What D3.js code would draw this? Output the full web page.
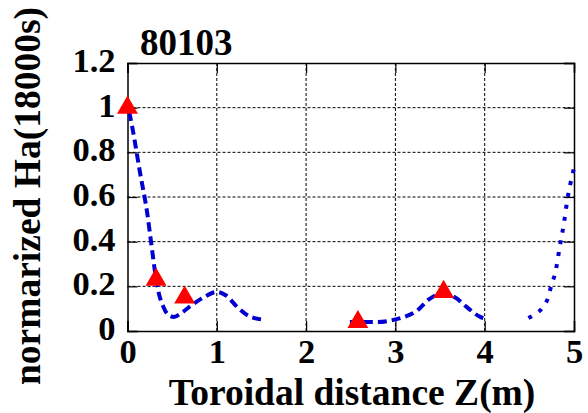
<!DOCTYPE html>
<html><head><meta charset="utf-8">
<script src="https://cdn.jsdelivr.net/npm/d3@7/dist/d3.min.js"></script>
<style>html,body{margin:0;padding:0;background:#fff;}svg{display:block;}</style>
</head><body>
<svg id="c" width="588" height="413"></svg>
<script>
const title = "80103";
const xLabel = "Toroidal distance Z(m)";
const yLabel = "normarized Ha(18000s)";
const xTicks = [0, 1, 2, 3, 4, 5];
const yTicks = [0, 0.2, 0.4, 0.6, 0.8, 1, 1.2];
const yTickLabels = ["0", "0.2", "0.4", "0.6", "0.8", "1", "1.2"];

// measured points (triangles)
const markerZ = [0, 0.32, 0.64, 2.58, 3.54];
const markerH = [1.0, 0.23, 0.15, 0.04, 0.175];

// dashed curve segments
const seg1Z = [0.02, 0.05, 0.14, 0.22, 0.27, 0.31, 0.35, 0.4, 0.45, 0.52, 0.6, 0.7, 0.85, 1.0, 1.1, 1.23, 1.37, 1.54];
const seg1H = [0.98, 0.92, 0.71, 0.53, 0.38, 0.26, 0.17, 0.11, 0.075, 0.063, 0.08, 0.11, 0.15, 0.175, 0.16, 0.107, 0.065, 0.05];
const seg2Z = [2.49, 2.8, 2.98, 3.1, 3.24, 3.37, 3.5, 3.58, 3.67, 3.8, 3.95, 4.02];
const seg2H = [0.04, 0.04, 0.05, 0.063, 0.09, 0.14, 0.165, 0.165, 0.15, 0.107, 0.063, 0.054];
const seg3Z = [4.49, 4.58, 4.64, 4.71, 4.75, 4.79, 4.84, 4.89, 4.93, 4.96, 5.0];
const seg3H = [0.058, 0.08, 0.10, 0.15, 0.21, 0.26, 0.376, 0.49, 0.60, 0.66, 0.73];

const svg = d3.select("#c");
const L = 127.5, R = 574, T = 63, B = 331;
const x = d3.scaleLinear().domain([0, 5]).range([L, R]);
const y = d3.scaleLinear().domain([0, 1.2]).range([B, T]);
const font = "'Liberation Serif','Times New Roman',serif";

// grid
const grid = svg.append("g");
grid.selectAll(".gx").data(xTicks.slice(1, -1)).enter().append("line")
  .attr("x1", d => x(d)).attr("x2", d => x(d)).attr("y1", T).attr("y2", B)
  .attr("stroke", "#000").attr("stroke-width", 1).attr("stroke-dasharray", "3,2");
grid.selectAll(".gy").data(yTicks.slice(1, -1)).enter().append("line")
  .attr("y1", d => y(d)).attr("y2", d => y(d)).attr("x1", L).attr("x2", R)
  .attr("stroke", "#000").attr("stroke-width", 1).attr("stroke-dasharray", "3,2");

// axes with inward ticks on all sides
const tl = 10;
const ax = svg.append("g");
const gb = ax.append("g").attr("transform", `translate(0,${B})`)
  .call(d3.axisBottom(x).tickValues(xTicks).tickSize(-tl).tickFormat(d3.format("d")).tickPadding(8));
ax.append("g").attr("transform", `translate(0,${T})`)
  .call(d3.axisTop(x).tickValues(xTicks).tickSize(-tl).tickFormat(""));
const gl = ax.append("g").attr("transform", `translate(${L},0)`)
  .call(d3.axisLeft(y).tickValues(yTicks).tickSize(-tl).tickFormat((d, i) => yTickLabels[i]).tickPadding(12));
ax.append("g").attr("transform", `translate(${R},0)`)
  .call(d3.axisRight(y).tickValues(yTicks).tickSize(-tl).tickFormat(""));
ax.selectAll("path.domain").attr("stroke", "#000").attr("stroke-width", 1.5);
ax.selectAll(".tick line").attr("stroke", "#000").attr("stroke-width", 1.2);
ax.selectAll("text").attr("font-family", font).attr("font-weight", "bold")
  .attr("font-size", 34.5).attr("fill", "#000");
gl.selectAll("text").attr("dy", "0.25em");

// curves
const line = d3.line().x(d => x(d[0])).y(d => y(d[1])).curve(d3.curveMonotoneX);
const segs = [
  {z: seg1Z, h: seg1H, dash: "9,5"},
  {z: seg2Z, h: seg2H, dash: "9,5"},
  {z: seg3Z, h: seg3H, dash: "4,8"}
];
segs.forEach(s => {
  svg.append("path").datum(s.z.map((v, i) => [v, s.h[i]]))
    .attr("d", line).attr("fill", "none").attr("stroke", "#0000d0")
    .attr("stroke-width", 4).attr("stroke-dasharray", s.dash);
});

// markers
const tri = d3.symbol().type(d3.symbolTriangle).size(190);
svg.selectAll(".m").data(markerZ.map((v, i) => [v, markerH[i]])).enter().append("path")
  .attr("d", tri).attr("transform", d => `translate(${x(d[0])},${y(d[1])})`)
  .attr("fill", "#ff0000");

// labels
svg.append("text").attr("x", 140).attr("y", 55).text(title)
  .attr("font-family", font).attr("font-weight", "bold").attr("font-size", 37);
svg.append("text").attr("x", 352).attr("y", 404.5).attr("text-anchor", "middle").text(xLabel)
  .attr("font-family", font).attr("font-weight", "bold").attr("font-size", 37.5);
svg.append("text").attr("transform", "translate(40,196) rotate(-90)").attr("text-anchor", "middle").text(yLabel)
  .attr("font-family", font).attr("font-weight", "bold").attr("font-size", 37.5);
</script>
</body></html>
